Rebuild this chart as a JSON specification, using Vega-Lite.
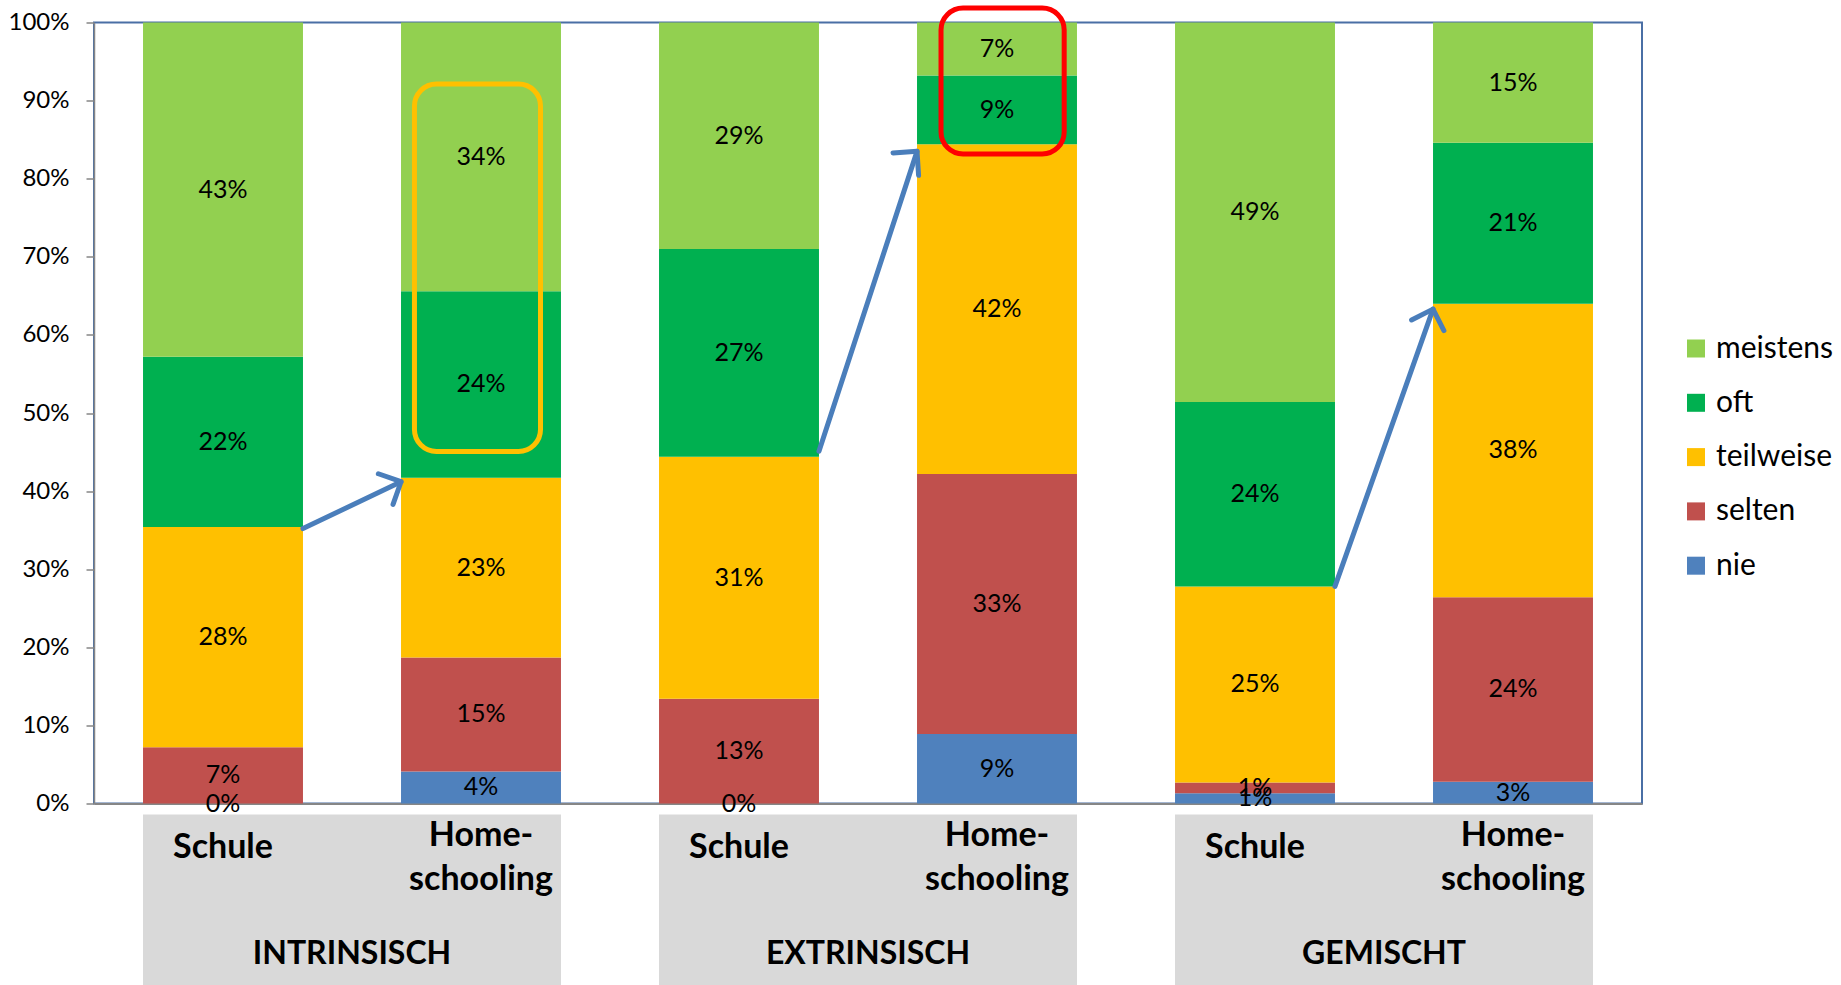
{
  "$schema": "https://vega.github.io/schema/vega-lite/v6.json",
  "padding": {"left": 7, "top": 3.5, "right": 0, "bottom": 0},
  "background": "white",
  "bounds": "flush",
  "spacing": 11,
  "datasets": {
    "anteile": [
      {"balken": "INTRINSISCH Schule", "kategorie": "nie", "stufe": 1, "anteil": 0.0},
      {"balken": "INTRINSISCH Schule", "kategorie": "selten", "stufe": 2, "anteil": 0.072},
      {"balken": "INTRINSISCH Schule", "kategorie": "teilweise", "stufe": 3, "anteil": 0.282},
      {"balken": "INTRINSISCH Schule", "kategorie": "oft", "stufe": 4, "anteil": 0.218},
      {"balken": "INTRINSISCH Schule", "kategorie": "meistens", "stufe": 5, "anteil": 0.428},
      {"balken": "INTRINSISCH Home-schooling", "kategorie": "nie", "stufe": 1, "anteil": 0.041},
      {"balken": "INTRINSISCH Home-schooling", "kategorie": "selten", "stufe": 2, "anteil": 0.146},
      {"balken": "INTRINSISCH Home-schooling", "kategorie": "teilweise", "stufe": 3, "anteil": 0.230},
      {"balken": "INTRINSISCH Home-schooling", "kategorie": "oft", "stufe": 4, "anteil": 0.239},
      {"balken": "INTRINSISCH Home-schooling", "kategorie": "meistens", "stufe": 5, "anteil": 0.344},
      {"balken": "EXTRINSISCH Schule", "kategorie": "nie", "stufe": 1, "anteil": 0.0},
      {"balken": "EXTRINSISCH Schule", "kategorie": "selten", "stufe": 2, "anteil": 0.134},
      {"balken": "EXTRINSISCH Schule", "kategorie": "teilweise", "stufe": 3, "anteil": 0.310},
      {"balken": "EXTRINSISCH Schule", "kategorie": "oft", "stufe": 4, "anteil": 0.266},
      {"balken": "EXTRINSISCH Schule", "kategorie": "meistens", "stufe": 5, "anteil": 0.290},
      {"balken": "EXTRINSISCH Home-schooling", "kategorie": "nie", "stufe": 1, "anteil": 0.089},
      {"balken": "EXTRINSISCH Home-schooling", "kategorie": "selten", "stufe": 2, "anteil": 0.333},
      {"balken": "EXTRINSISCH Home-schooling", "kategorie": "teilweise", "stufe": 3, "anteil": 0.422},
      {"balken": "EXTRINSISCH Home-schooling", "kategorie": "oft", "stufe": 4, "anteil": 0.088},
      {"balken": "EXTRINSISCH Home-schooling", "kategorie": "meistens", "stufe": 5, "anteil": 0.068},
      {"balken": "GEMISCHT Schule", "kategorie": "nie", "stufe": 1, "anteil": 0.013},
      {"balken": "GEMISCHT Schule", "kategorie": "selten", "stufe": 2, "anteil": 0.014},
      {"balken": "GEMISCHT Schule", "kategorie": "teilweise", "stufe": 3, "anteil": 0.251},
      {"balken": "GEMISCHT Schule", "kategorie": "oft", "stufe": 4, "anteil": 0.236},
      {"balken": "GEMISCHT Schule", "kategorie": "meistens", "stufe": 5, "anteil": 0.486},
      {"balken": "GEMISCHT Home-schooling", "kategorie": "nie", "stufe": 1, "anteil": 0.028},
      {"balken": "GEMISCHT Home-schooling", "kategorie": "selten", "stufe": 2, "anteil": 0.236},
      {"balken": "GEMISCHT Home-schooling", "kategorie": "teilweise", "stufe": 3, "anteil": 0.376},
      {"balken": "GEMISCHT Home-schooling", "kategorie": "oft", "stufe": 4, "anteil": 0.206},
      {"balken": "GEMISCHT Home-schooling", "kategorie": "meistens", "stufe": 5, "anteil": 0.154}
    ],
    "pfeile": [
      {"pfeil": "1", "von": "INTRINSISCH Schule", "nach": "INTRINSISCH Home-schooling", "y_von": 0.352, "y_nach": 0.412},
      {"pfeil": "2", "von": "EXTRINSISCH Schule", "nach": "EXTRINSISCH Home-schooling", "y_von": 0.451, "y_nach": 0.835},
      {"pfeil": "3", "von": "GEMISCHT Schule", "nach": "GEMISCHT Home-schooling", "y_von": 0.278, "y_nach": 0.633}
    ],
    "rahmen": [
      {"rahmen": "gelb", "balken": "INTRINSISCH Home-schooling", "oben": 0.9213, "unten": 0.4507},
      {"rahmen": "rot", "balken": "EXTRINSISCH Home-schooling", "oben": 1.0186, "unten": 0.8316}
    ],
    "gruppen": [
      {"gruppe": "INTRINSISCH"},
      {"gruppe": "EXTRINSISCH"},
      {"gruppe": "GEMISCHT"}
    ],
    "balken": [
      {"balken": "INTRINSISCH Schule", "ort": "Schule", "beschriftung": "Schule"},
      {"balken": "INTRINSISCH Home-schooling", "ort": "Home-schooling", "beschriftung": "Home-\nschooling"},
      {"balken": "EXTRINSISCH Schule", "ort": "Schule", "beschriftung": "Schule"},
      {"balken": "EXTRINSISCH Home-schooling", "ort": "Home-schooling", "beschriftung": "Home-\nschooling"},
      {"balken": "GEMISCHT Schule", "ort": "Schule", "beschriftung": "Schule"},
      {"balken": "GEMISCHT Home-schooling", "ort": "Home-schooling", "beschriftung": "Home-\nschooling"}
    ]
  },
  "vconcat": [
    {
      "width": 1548,
      "height": 781,
      "layer": [
        {
          "data": {"name": "anteile"},
          "transform": [
            {"stack": "anteil", "groupby": ["balken"], "sort": [{"field": "stufe", "order": "ascending"}], "as": ["y0", "y1"]},
            {"calculate": "(datum.y0 + datum.y1) / 2", "as": "mitte"}
          ],
          "layer": [
            {
              "mark": {"type": "bar"},
              "encoding": {
                "x": {"field": "balken", "type": "nominal", "sort": null,
                  "scale": {"domain": ["INTRINSISCH Schule", "INTRINSISCH Home-schooling", "EXTRINSISCH Schule", "EXTRINSISCH Home-schooling", "GEMISCHT Schule", "GEMISCHT Home-schooling"], "paddingInner": 0.38, "paddingOuter": 0.19},
                  "axis": {"title": null, "labels": false, "ticks": false, "domainColor": "#868686", "domainWidth": 2}},
                "y": {"field": "y0", "type": "quantitative",
                  "scale": {"domain": [0, 1], "nice": false},
                  "axis": {"title": null, "values": [0, 0.1, 0.2, 0.3, 0.4, 0.5, 0.6, 0.7, 0.8, 0.9, 1], "format": ".0%", "grid": false, "domainColor": "#868686", "domainWidth": 1.5, "tickColor": "#868686", "tickWidth": 1.5, "tickSize": 8, "labelFont": "Lato", "labelFontSize": 24, "labelColor": "#000000", "labelPadding": 17}},
                "y2": {"field": "y1"},
                "color": {"field": "kategorie", "type": "nominal",
                  "scale": {"domain": ["meistens", "oft", "teilweise", "selten", "nie"], "range": ["#92d050", "#00b050", "#ffc000", "#c0504d", "#4f81bd"]},
                  "legend": {"title": null, "orient": "none", "legendX": 1587, "legendY": 311, "symbolType": "square", "symbolSize": 324, "symbolStrokeWidth": 0, "labelFont": "Lato", "labelFontSize": 30, "labelColor": "#000000", "rowPadding": 24.3, "labelOffset": 5, "padding": 0}}
              }
            },
            {
              "mark": {"type": "text", "font": "Lato", "fontSize": 25, "color": "#000000", "baseline": "middle"},
              "encoding": {
                "x": {"field": "balken", "type": "nominal", "sort": null,
                  "scale": {"domain": ["INTRINSISCH Schule", "INTRINSISCH Home-schooling", "EXTRINSISCH Schule", "EXTRINSISCH Home-schooling", "GEMISCHT Schule", "GEMISCHT Home-schooling"], "paddingInner": 0.38, "paddingOuter": 0.19},
                  "axis": {"title": null, "labels": false, "ticks": false, "domainColor": "#868686", "domainWidth": 2}},
                "y": {"field": "mitte", "type": "quantitative",
                  "scale": {"domain": [0, 1], "nice": false},
                  "axis": {"title": null, "values": [0, 0.1, 0.2, 0.3, 0.4, 0.5, 0.6, 0.7, 0.8, 0.9, 1], "format": ".0%", "grid": false, "domainColor": "#868686", "domainWidth": 1.5, "tickColor": "#868686", "tickWidth": 1.5, "tickSize": 8, "labelFont": "Lato", "labelFontSize": 24, "labelColor": "#000000", "labelPadding": 17}},
                "text": {"field": "anteil", "type": "quantitative", "format": ".0%"}
              }
            }
          ]
        },
        {
          "data": {"name": "rahmen"},
          "transform": [{"filter": "datum.rahmen == 'gelb'"}],
          "mark": {"type": "rect", "filled": false, "stroke": "#ffc000", "strokeWidth": 5, "cornerRadius": 22},
          "encoding": {
            "x": {"field": "balken", "type": "nominal", "sort": null, "bandPosition": 0.084,
              "scale": {"domain": ["INTRINSISCH Schule", "INTRINSISCH Home-schooling", "EXTRINSISCH Schule", "EXTRINSISCH Home-schooling", "GEMISCHT Schule", "GEMISCHT Home-schooling"], "paddingInner": 0.38, "paddingOuter": 0.19},
              "axis": {"title": null, "labels": false, "ticks": false, "domainColor": "#868686", "domainWidth": 2}},
            "x2": {"field": "balken", "bandPosition": 0.872},
            "y": {"field": "oben", "type": "quantitative",
              "scale": {"domain": [0, 1], "nice": false},
              "axis": {"title": null, "values": [0, 0.1, 0.2, 0.3, 0.4, 0.5, 0.6, 0.7, 0.8, 0.9, 1], "format": ".0%", "grid": false, "domainColor": "#868686", "domainWidth": 1.5, "tickColor": "#868686", "tickWidth": 1.5, "tickSize": 8, "labelFont": "Lato", "labelFontSize": 24, "labelColor": "#000000", "labelPadding": 17}},
            "y2": {"field": "unten"}
          }
        },
        {
          "data": {"name": "rahmen"},
          "transform": [{"filter": "datum.rahmen == 'rot'"}],
          "mark": {"type": "rect", "filled": false, "stroke": "#ff0000", "strokeWidth": 5, "cornerRadius": 22},
          "encoding": {
            "x": {"field": "balken", "type": "nominal", "sort": null, "bandPosition": 0.15,
              "scale": {"domain": ["INTRINSISCH Schule", "INTRINSISCH Home-schooling", "EXTRINSISCH Schule", "EXTRINSISCH Home-schooling", "GEMISCHT Schule", "GEMISCHT Home-schooling"], "paddingInner": 0.38, "paddingOuter": 0.19},
              "axis": {"title": null, "labels": false, "ticks": false, "domainColor": "#868686", "domainWidth": 2}},
            "x2": {"field": "balken", "bandPosition": 0.92},
            "y": {"field": "oben", "type": "quantitative",
              "scale": {"domain": [0, 1], "nice": false},
              "axis": {"title": null, "values": [0, 0.1, 0.2, 0.3, 0.4, 0.5, 0.6, 0.7, 0.8, 0.9, 1], "format": ".0%", "grid": false, "domainColor": "#868686", "domainWidth": 1.5, "tickColor": "#868686", "tickWidth": 1.5, "tickSize": 8, "labelFont": "Lato", "labelFontSize": 24, "labelColor": "#000000", "labelPadding": 17}},
            "y2": {"field": "unten"}
          }
        },
        {
          "data": {"name": "pfeile"},
          "mark": {"type": "rule", "color": "#4a7ebb", "strokeWidth": 5, "strokeCap": "round"},
          "encoding": {
            "x": {"field": "von", "type": "nominal", "sort": null, "bandPosition": 1,
              "scale": {"domain": ["INTRINSISCH Schule", "INTRINSISCH Home-schooling", "EXTRINSISCH Schule", "EXTRINSISCH Home-schooling", "GEMISCHT Schule", "GEMISCHT Home-schooling"], "paddingInner": 0.38, "paddingOuter": 0.19},
              "axis": {"title": null, "labels": false, "ticks": false, "domainColor": "#868686", "domainWidth": 2}},
            "x2": {"field": "nach", "bandPosition": 0},
            "y": {"field": "y_von", "type": "quantitative",
              "scale": {"domain": [0, 1], "nice": false},
              "axis": {"title": null, "values": [0, 0.1, 0.2, 0.3, 0.4, 0.5, 0.6, 0.7, 0.8, 0.9, 1], "format": ".0%", "grid": false, "domainColor": "#868686", "domainWidth": 1.5, "tickColor": "#868686", "tickWidth": 1.5, "tickSize": 8, "labelFont": "Lato", "labelFontSize": 24, "labelColor": "#000000", "labelPadding": 17}},
            "y2": {"field": "y_nach"}
          }
        },
        {
          "data": {"name": "pfeile"},
          "mark": {"type": "point", "shape": "M -1 1 L 0 0 L 1 1", "filled": false, "color": "#4a7ebb", "strokeWidth": 5, "strokeCap": "round", "strokeJoin": "round", "size": 1156, "opacity": 1},
          "encoding": {
            "x": {"field": "nach", "type": "nominal", "sort": null, "bandPosition": 0,
              "scale": {"domain": ["INTRINSISCH Schule", "INTRINSISCH Home-schooling", "EXTRINSISCH Schule", "EXTRINSISCH Home-schooling", "GEMISCHT Schule", "GEMISCHT Home-schooling"], "paddingInner": 0.38, "paddingOuter": 0.19},
              "axis": {"title": null, "labels": false, "ticks": false, "domainColor": "#868686", "domainWidth": 2}},
            "y": {"field": "y_nach", "type": "quantitative",
              "scale": {"domain": [0, 1], "nice": false},
              "axis": {"title": null, "values": [0, 0.1, 0.2, 0.3, 0.4, 0.5, 0.6, 0.7, 0.8, 0.9, 1], "format": ".0%", "grid": false, "domainColor": "#868686", "domainWidth": 1.5, "tickColor": "#868686", "tickWidth": 1.5, "tickSize": 8, "labelFont": "Lato", "labelFontSize": 24, "labelColor": "#000000", "labelPadding": 17}},
            "angle": {"field": "pfeil", "type": "ordinal", "scale": {"domain": ["1", "2", "3"], "range": [64.4, 18.1, 19.5]}, "legend": null}
          }
        }
      ]
    },
    {
      "width": 1548,
      "height": 171,
      "view": {"stroke": null},
      "resolve": {"scale": {"x": "independent"}},
      "layer": [
        {
          "data": {"name": "gruppen"},
          "mark": {"type": "rect", "color": "#d9d9d9"},
          "encoding": {
            "x": {"field": "gruppe", "type": "nominal", "sort": null,
              "scale": {"domain": ["INTRINSISCH", "EXTRINSISCH", "GEMISCHT"], "paddingInner": 0.19, "paddingOuter": 0.095},
              "axis": null}
          }
        },
        {
          "data": {"name": "gruppen"},
          "mark": {"type": "text", "font": "Lato", "fontWeight": "bold", "fontSize": 32, "color": "#000000", "baseline": "middle", "dy": 53.5},
          "encoding": {
            "x": {"field": "gruppe", "type": "nominal", "sort": null,
              "scale": {"domain": ["INTRINSISCH", "EXTRINSISCH", "GEMISCHT"], "paddingInner": 0.19, "paddingOuter": 0.095},
              "axis": null},
            "text": {"field": "gruppe"}
          }
        },
        {
          "data": {"name": "balken"},
          "transform": [{"filter": "datum.ort == 'Schule'"}],
          "mark": {"type": "text", "font": "Lato", "fontWeight": "bold", "fontSize": 34, "color": "#000000", "baseline": "middle", "dy": -52.5},
          "encoding": {
            "x": {"field": "balken", "type": "nominal", "sort": null,
              "scale": {"domain": ["INTRINSISCH Schule", "INTRINSISCH Home-schooling", "EXTRINSISCH Schule", "EXTRINSISCH Home-schooling", "GEMISCHT Schule", "GEMISCHT Home-schooling"], "paddingInner": 0.38, "paddingOuter": 0.19},
              "axis": null},
            "text": {"field": "beschriftung"}
          }
        },
        {
          "data": {"name": "balken"},
          "transform": [{"filter": "datum.ort == 'Home-schooling'"}],
          "mark": {"type": "text", "font": "Lato", "fontWeight": "bold", "fontSize": 34, "color": "#000000", "baseline": "middle", "dy": -64, "lineBreak": "\n", "lineHeight": 44},
          "encoding": {
            "x": {"field": "balken", "type": "nominal", "sort": null,
              "scale": {"domain": ["INTRINSISCH Schule", "INTRINSISCH Home-schooling", "EXTRINSISCH Schule", "EXTRINSISCH Home-schooling", "GEMISCHT Schule", "GEMISCHT Home-schooling"], "paddingInner": 0.38, "paddingOuter": 0.19},
              "axis": null},
            "text": {"field": "beschriftung"}
          }
        }
      ]
    }
  ],
  "config": {
    "font": "Lato",
    "view": {"stroke": "#4a6fa5", "strokeWidth": 2}
  }
}
